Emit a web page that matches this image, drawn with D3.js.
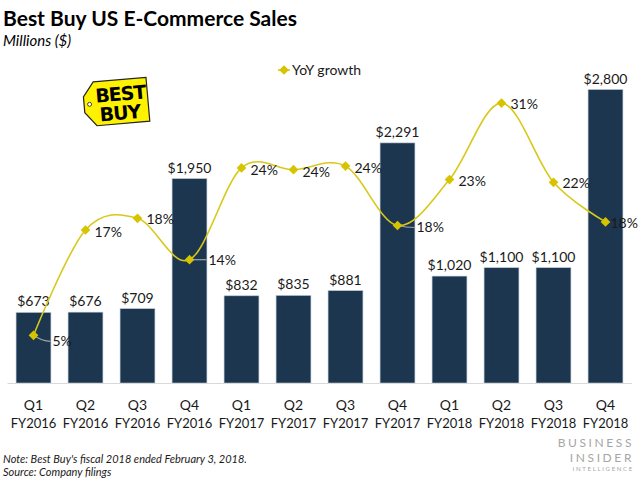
<!DOCTYPE html>
<html>
<head>
<meta charset="utf-8">
<script src="https://cdn.jsdelivr.net/npm/d3@7"></script>
<style>
  html, body { margin: 0; padding: 0; background: #ffffff; }
  svg { display: block; font-family: Lato, "Open Sans", sans-serif; }
</style>
</head>
<body>
<div id="chart"></div>
<script>
// ---------- DATA ----------
const quarters    = ["Q1", "Q2", "Q3", "Q4", "Q1", "Q2", "Q3", "Q4", "Q1", "Q2", "Q3", "Q4"];
const fiscalYears = ["FY2016", "FY2016", "FY2016", "FY2016", "FY2017", "FY2017", "FY2017", "FY2017", "FY2018", "FY2018", "FY2018", "FY2018"];
const sales       = [673, 676, 709, 1950, 832, 835, 881, 2291, 1020, 1100, 1100, 2800];     // millions $
const yoyGrowth   = [5.3, 17.0, 18.3, 13.7, 23.9, 23.7, 24.1, 17.5, 22.6, 31.1, 22.3, 17.9]; // %
const categories  = quarters.map((q, i) => q + " " + fiscalYears[i]);

// ---------- LAYOUT (not data) ----------
const W = 640, H = 480;
const labelNudge = [[19, 6], [9, 2], [9, 1], [19, 0], [9, 2], [9, 2], [9, 2], [19, 2], [9, 1], [9, 1], [9, 1], [5, 1]];
const leader     = [true, false, false, true, false, false, false, true, false, false, false, false];

const svg = d3.select("#chart").append("svg").attr("width", W).attr("height", H);

const x = d3.scaleBand().domain(categories).range([7.5, 631.5]).paddingInner(0.33).paddingOuter(0.165);
const y = d3.scaleLinear().domain([0, 3000]).range([383, 68.6]);
const y2 = d3.scaleLinear().domain([0, 35]).range([383, 68]);

// Title
svg.append("text").attr("x", 3).attr("y", 26).attr("font-size", 21).attr("font-weight", 700)
  .attr("fill", "#000").text("Best Buy US E-Commerce Sales");
svg.append("text").attr("x", 3).attr("y", 46).attr("font-size", 15).attr("font-style", "italic")
  .attr("fill", "#000").text("Millions ($)");

// Bars
svg.append("g").selectAll("rect").data(sales).join("rect")
  .attr("x", (d, i) => x(categories[i]))
  .attr("y", d => y(d))
  .attr("width", x.bandwidth())
  .attr("height", d => y(0) - y(d))
  .attr("fill", "#1c3650")
  .attr("stroke", "#b8c4d0").attr("stroke-width", 0.6);

// Bar labels
svg.append("g").selectAll("text").data(sales).join("text")
  .attr("x", (d, i) => x(categories[i]) + x.bandwidth() / 2)
  .attr("y", d => y(d) - 6)
  .attr("text-anchor", "middle").attr("font-size", 14).attr("fill", "#1a1a1a")
  .text(d => "$" + d3.format(",")(d));

// X axis
const xAxis = svg.append("g").attr("transform", "translate(0,383)")
  .call(d3.axisBottom(x).tickSize(0).tickPadding(0).tickFormat(() => ""));
xAxis.select(".domain").attr("stroke", "#d9d9d9").attr("d", "M7.5,0.5H632");
xAxis.selectAll(".tick text").remove();
xAxis.selectAll(".tick").each(function(d, i) {
  const t = d3.select(this).append("text").attr("fill", "#1a1a1a").attr("font-size", 13)
    .attr("text-anchor", "middle").attr("font-family", "Lato, sans-serif");
  t.append("tspan").attr("x", 0).attr("y", 27).attr("font-size", 14).text(quarters[i]);
  t.append("tspan").attr("x", 0).attr("y", 45).text(fiscalYears[i]);
});

// Line (smoothed)
const cx = i => x(categories[i]) + x.bandwidth() / 2;
const line = d3.line().x((d, i) => cx(i)).y(d => y2(d)).curve(d3.curveCardinal.tension(0));
svg.append("path").datum(yoyGrowth).attr("d", line)
  .attr("fill", "none").attr("stroke", "#d8c81a").attr("stroke-width", 1.6);

// Leader lines
svg.append("g").selectAll("path").data(yoyGrowth).join("path")
  .attr("d", (d, i) => {
    if (!leader[i]) return null;
    const x0 = cx(i), y0 = y2(d);
    const x1 = x0 + labelNudge[i][0] - 2, y1 = y0 + labelNudge[i][1];
    return `M${x0},${y0} Q${x0 + (x1 - x0) * 0.5},${y1} ${x1},${y1}`;
  })
  .attr("fill", "none").attr("stroke", "#a6a6a6").attr("stroke-width", 1.2);

// Markers
const diamond = d3.symbol().type(d3.symbolDiamond2).size(60);
svg.append("g").selectAll("path").data(yoyGrowth).join("path")
  .attr("transform", (d, i) => `translate(${cx(i)},${y2(d)})`)
  .attr("d", diamond).attr("fill", "#d6c400");

// Point labels
svg.append("g").selectAll("text").data(yoyGrowth).join("text")
  .attr("x", (d, i) => cx(i) + labelNudge[i][0])
  .attr("y", (d, i) => y2(d) + labelNudge[i][1])
  .attr("dy", "0.35em").attr("font-size", 14).attr("fill", "#1a1a1a")
  .text(d => Math.round(d) + "%");

// Legend
const lg = svg.append("g").attr("transform", "translate(278,70)");
lg.append("line").attr("x1", 0).attr("x2", 12).attr("y1", 0).attr("y2", 0).attr("stroke", "#d8c81a").attr("stroke-width", 1.6);
lg.append("path").attr("transform", "translate(6,0)").attr("d", diamond).attr("fill", "#d6c400");
lg.append("text").attr("x", 14).attr("y", 0).attr("dy", "0.35em").attr("font-size", 14).attr("fill", "#1a1a1a").text("YoY growth");

// Best Buy logo (tag)
const logo = svg.append("g").attr("transform", "translate(84,80) rotate(-5 32 22)");
logo.append("path").attr("d", "M11,0 L64,0 L64,44 L11,44 L0,30 L0,14 Z")
  .attr("fill", "#fff200").attr("stroke", "#222").attr("stroke-width", 1.2);
logo.append("circle").attr("cx", 5.5).attr("cy", 22).attr("r", 2).attr("fill", "#fff").attr("stroke", "#222").attr("stroke-width", 0.8);
logo.append("text").attr("x", 37).attr("y", 21).attr("text-anchor", "middle").attr("font-size", 19)
  .attr("font-weight", 900).attr("font-family", "'DejaVu Sans', sans-serif").attr("fill", "#000").attr("letter-spacing", -1).text("BEST");
logo.append("text").attr("x", 35).attr("y", 40).attr("text-anchor", "middle").attr("font-size", 19)
  .attr("font-weight", 900).attr("font-family", "'DejaVu Sans', sans-serif").attr("fill", "#000").attr("letter-spacing", -1).text("BUY");

// Footnotes
svg.append("text").attr("x", 3).attr("y", 463).attr("font-size", 11).attr("font-style", "italic")
  .attr("fill", "#1a1a1a").text("Note: Best Buy's fiscal 2018 ended February 3, 2018.");
svg.append("text").attr("x", 3).attr("y", 476).attr("font-size", 11).attr("font-style", "italic")
  .attr("fill", "#1a1a1a").text("Source: Company filings");

// Business Insider Intelligence
const bi = svg.append("g").attr("fill", "#a6a6a6").attr("text-anchor", "end");
bi.append("text").attr("x", 634).attr("y", 447).attr("font-size", 12).attr("letter-spacing", 2.6).text("BUSINESS");
bi.append("text").attr("x", 634).attr("y", 461.5).attr("font-size", 12).attr("letter-spacing", 2.6).text("INSIDER");
bi.append("text").attr("x", 634).attr("y", 471).attr("font-size", 6).attr("letter-spacing", 1.7).text("INTELLIGENCE");
</script>
</body>
</html>
